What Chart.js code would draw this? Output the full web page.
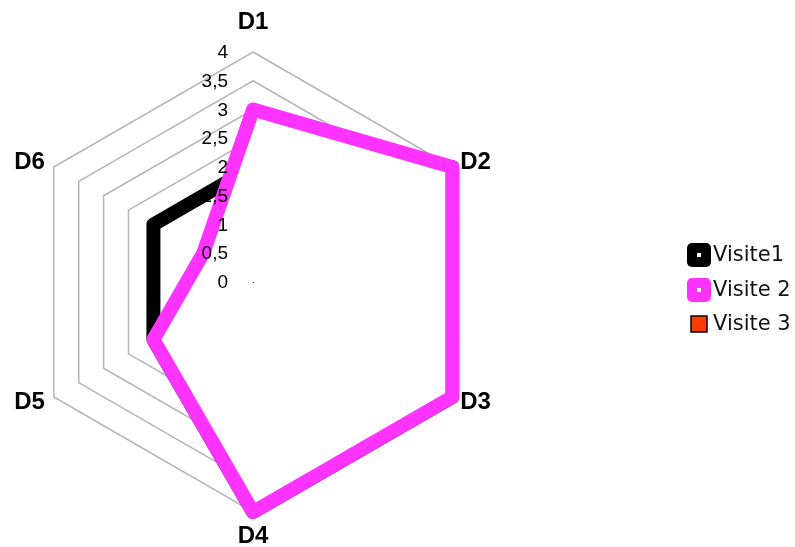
<!DOCTYPE html>
<html>
<head>
<meta charset="utf-8">
<script src="https://cdn.jsdelivr.net/npm/chart.js@4/dist/chart.umd.min.js"></script>
<style>
  html, body { margin: 0; padding: 0; background: #fff; }
  #wrap { width: 795px; height: 547px; position: relative; }
</style>
</head>
<body>
<div id="wrap"><canvas id="c" width="795" height="547"></canvas></div>
<script>
// ---- data ----
const categories = ['D1', 'D2', 'D3', 'D4', 'D5', 'D6'];
const visite1 = [2, 4, 4, 4, 2, 2];
const visite2 = [3, 4, 4, 4, 2, 1];
const visite3 = [null, null, null, null, null, null];
const seriesNames = ['Visite1', 'Visite 2', 'Visite 3'];
const tickValues = [0, 0.5, 1, 1.5, 2, 2.5, 3, 3.5, 4];
const tickLabels = ['0', '0,5', '1', '1,5', '2', '2,5', '3', '3,5', '4'];

const colBlack = '#000000';
const colMagenta = '#FF33FF';
const colOrange = '#FF3C00';

// custom drawing of tick labels, category labels and legend
const overlay = {
  id: 'overlay',
  afterDatasetsDraw(chart) {
    const s = chart.scales.r;
    const ctx = chart.ctx;
    ctx.save();
    // centre dot
    ctx.fillStyle = '#333';
    ctx.fillRect(s.xCenter, s.yCenter, 1, 1);
    // tick labels
    ctx.font = '19px "Liberation Sans", Arial, sans-serif';
    ctx.fillStyle = '#000';
    ctx.textAlign = 'right';
    ctx.textBaseline = 'middle';
    tickValues.forEach((v, i) => {
      const y = s.yCenter - s.getDistanceFromCenterForValue(v);
      ctx.fillText(tickLabels[i], s.xCenter - 25, y + 1);
    });
    // category labels
    ctx.font = 'bold 24px "Liberation Sans", Arial, sans-serif';
    categories.forEach((lab, i) => {
      const p = s.getPointPositionForValue(i, s.max);
      let x = p.x, y = p.y;
      if (i === 0) { ctx.textAlign = 'center'; y -= 30; }
      else if (i === 3) { ctx.textAlign = 'center'; y += 24; }
      else if (i === 1) { ctx.textAlign = 'left'; x += 8; y -= 5; }
      else if (i === 2) { ctx.textAlign = 'left'; x += 8; y += 5; }
      else if (i === 4) { ctx.textAlign = 'right'; x -= 9; y += 5; }
      else { ctx.textAlign = 'right'; x -= 9; y -= 5; }
      ctx.fillText(lab, x, y);
    });
    // legend
    const items = chart.data.datasets.slice().sort((a, b) => a.legendIndex - b.legendIndex);
    const rows = [255, 290, 324];
    ctx.font = '21px "DejaVu Sans", sans-serif';
    ctx.textAlign = 'left';
    items.forEach((ds, k) => {
      const cy = rows[k];
      if (k < 2) {
        ctx.fillStyle = ds.borderColor;
        ctx.beginPath();
        ctx.roundRect(687, cy - 12, 24, 24, 5);
        ctx.fill();
        ctx.fillStyle = '#fff';
        ctx.fillRect(697, cy - 2, 4, 4);
      } else {
        ctx.fillStyle = ds.borderColor;
        ctx.fillRect(691, cy - 8, 16, 16);
        ctx.strokeStyle = '#000';
        ctx.lineWidth = 1.5;
        ctx.strokeRect(691, cy - 8, 16, 16);
      }
      ctx.fillStyle = '#111';
      ctx.fillText(ds.label, 713, cy + 1);
    });
    ctx.restore();
  }
};

new Chart(document.getElementById('c'), {
  type: 'radar',
  data: {
    labels: categories,
    datasets: [
      {
        label: seriesNames[1], data: visite2, legendIndex: 1, order: 0,
        borderColor: colMagenta, backgroundColor: '#ffffff', fill: true,
        borderWidth: 14, borderJoinStyle: 'round', pointRadius: 0, pointHoverRadius: 0
      },
      {
        label: seriesNames[0], data: visite1, legendIndex: 0, order: 1,
        borderColor: colBlack, backgroundColor: '#ffffff', fill: true,
        borderWidth: 14, borderJoinStyle: 'round', pointRadius: 0, pointHoverRadius: 0
      },
      {
        label: seriesNames[2], data: visite3, legendIndex: 2, order: 2,
        borderColor: colOrange, backgroundColor: '#ffffff', fill: false,
        borderWidth: 14, pointRadius: 0
      }
    ]
  },
  options: {
    responsive: false,
    animation: false,
    devicePixelRatio: 1,
    layout: { padding: 0 },
    plugins: { legend: { display: false }, tooltip: { enabled: false } },
    elements: { line: { tension: 0 } },
    scales: {
      r: {
        min: 0, max: 4,
        ticks: { stepSize: 0.5, display: false },
        grid: { color: '#B4B4B4', lineWidth: 1.5 },
        angleLines: { display: false },
        pointLabels: { display: false },
        afterFit(scale) {
          scale.xCenter = 253;
          scale.yCenter = 282;
          scale.drawingArea = 230;
        }
      }
    }
  },
  plugins: [overlay]
});
</script>
</body>
</html>
